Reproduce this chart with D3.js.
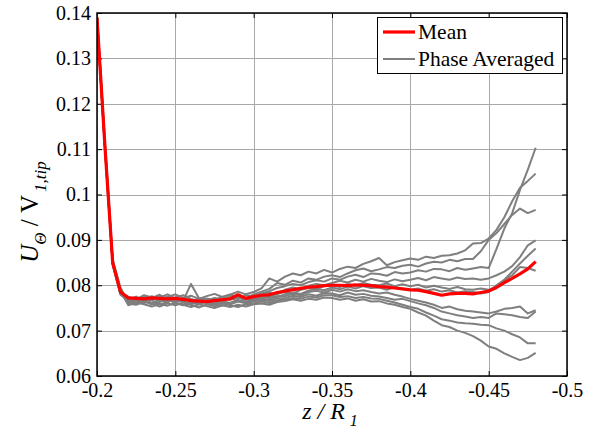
<!DOCTYPE html>
<html>
<head>
<meta charset="utf-8">
<script src="https://cdn.jsdelivr.net/npm/d3@7"></script>
<style>
  html, body { margin: 0; padding: 0; background: #fff; }
  svg { display: block; }
  svg text { font-family: 'Liberation Serif', 'Times New Roman', Times, 'DejaVu Serif', serif; }
</style>
</head>
<body>
<svg id="chart" width="590" height="434"></svg>
<script>
// ---------- data ----------
const zR = [-0.200,-0.205,-0.210,-0.215,-0.220,-0.225,-0.230,-0.235,-0.240,-0.245,
  -0.250,-0.255,-0.260,-0.265,-0.270,-0.275,-0.280,-0.285,-0.290,-0.295,
  -0.300,-0.305,-0.310,-0.315,-0.320,-0.325,-0.330,-0.335,-0.340,-0.345,
  -0.350,-0.355,-0.360,-0.365,-0.370,-0.375,-0.380,-0.385,-0.390,-0.395,
  -0.400,-0.405,-0.410,-0.415,-0.420,-0.425,-0.430,-0.435,-0.440,-0.445,
  -0.450,-0.455,-0.460,-0.465,-0.470,-0.475,-0.480];

const meanU = [0.1390,0.1110,0.0850,0.0785,0.0772,0.0771,0.0770,0.0772,0.0771,0.0770,
  0.0771,0.0769,0.0766,0.0765,0.0764,0.0766,0.0768,0.0770,0.0779,0.0771,
  0.0775,0.0778,0.0779,0.0784,0.0787,0.0790,0.0793,0.0796,0.0797,0.0799,
  0.0800,0.0800,0.0799,0.0801,0.0800,0.0799,0.0797,0.0796,0.0794,0.0792,
  0.0790,0.0789,0.0786,0.0782,0.0778,0.0781,0.0782,0.0782,0.0781,0.0784,
  0.0787,0.0795,0.0806,0.0815,0.0825,0.0836,0.0852];

const phaseA = [0.1392,0.1112,0.0852,0.0790,
  0.0768,0.0775,0.0766,0.0772,0.0779,0.0770,0.0764,0.0771,0.0768,0.0760,0.0766,0.0772,0.0769,0.0775,0.0770,0.0778,
  0.0776,0.0782,0.0787,0.0794,0.0798,0.0803,0.0800,0.0807,0.0811,0.0808,
  0.0815,0.0812,0.0819,0.0823,0.0818,0.0826,0.0825,0.0821,0.0829,0.0826,
  0.0828,0.0833,0.0830,0.0836,0.0835,0.0831,0.0838,0.0834,0.0837,0.0840,
  0.0838,0.0880,0.0925,0.0959,0.1010,0.1055,0.1103];
const phaseB = [0.1388,0.1105,0.0848,0.0785,
  0.0775,0.0769,0.0778,0.0773,0.0765,0.0774,0.0780,0.0772,0.0777,0.0770,0.0776,0.0781,0.0774,0.0779,0.0786,0.0780,
  0.0785,0.0793,0.0815,0.0808,0.0819,0.0826,0.0822,0.0830,0.0826,0.0834,
  0.0828,0.0836,0.0841,0.0838,0.0847,0.0853,0.0860,0.0844,0.0851,0.0855,
  0.0859,0.0856,0.0863,0.0860,0.0865,0.0866,0.0870,0.0877,0.0892,0.0893,
  0.0903,0.0922,0.0950,0.0985,0.1015,0.1030,0.1046];
const phaseC = [0.1395,0.1118,0.0856,0.0795,
  0.0762,0.0770,0.0774,0.0768,0.0773,0.0780,0.0771,0.0766,0.0803,0.0772,0.0769,0.0765,0.0772,0.0768,0.0774,0.0771,
  0.0780,0.0786,0.0792,0.0805,0.0801,0.0810,0.0806,0.0815,0.0812,0.0819,
  0.0822,0.0818,0.0826,0.0833,0.0837,0.0831,0.0835,0.0840,0.0838,0.0843,
  0.0845,0.0841,0.0848,0.0852,0.0850,0.0856,0.0853,0.0858,0.0858,0.0875,
  0.0900,0.0915,0.0935,0.0955,0.0969,0.0959,0.0966];
const phaseD = [0.1390,0.1108,0.0845,0.0780,
  0.0770,0.0763,0.0771,0.0776,0.0768,0.0762,0.0773,0.0778,0.0770,0.0765,0.0771,0.0767,0.0774,0.0780,0.0773,0.0768,
  0.0772,0.0778,0.0784,0.0780,0.0790,0.0795,0.0791,0.0799,0.0803,0.0800,
  0.0805,0.0810,0.0806,0.0812,0.0808,0.0814,0.0810,0.0807,0.0813,0.0809,
  0.0812,0.0816,0.0811,0.0818,0.0815,0.0812,0.0817,0.0814,0.0815,0.0812,
  0.0815,0.0822,0.0830,0.0842,0.0862,0.0888,0.0899];
const phaseE = [0.1386,0.1110,0.0850,0.0788,
  0.0764,0.0772,0.0768,0.0760,0.0769,0.0775,0.0767,0.0763,0.0758,0.0766,0.0762,0.0768,0.0765,0.0761,0.0767,0.0763,
  0.0770,0.0775,0.0772,0.0781,0.0785,0.0782,0.0790,0.0794,0.0791,0.0798,
  0.0800,0.0796,0.0803,0.0799,0.0805,0.0801,0.0800,0.0804,0.0798,0.0802,
  0.0798,0.0801,0.0795,0.0799,0.0795,0.0792,0.0796,0.0791,0.0790,0.0793,
  0.0790,0.0798,0.0812,0.0830,0.0848,0.0865,0.0881];
const phaseF = [0.1393,0.1114,0.0855,0.0782,
  0.0772,0.0766,0.0763,0.0770,0.0774,0.0768,0.0762,0.0769,0.0765,0.0770,0.0764,0.0760,0.0766,0.0771,0.0765,0.0769,
  0.0768,0.0772,0.0777,0.0774,0.0780,0.0784,0.0781,0.0788,0.0792,0.0789,
  0.0795,0.0791,0.0797,0.0793,0.0798,0.0794,0.0795,0.0790,0.0796,0.0792,
  0.0790,0.0793,0.0788,0.0791,0.0786,0.0789,0.0784,0.0787,0.0785,0.0782,
  0.0785,0.0800,0.0812,0.0822,0.0840,0.0838,0.0832];
const phaseG = [0.1389,0.1106,0.0846,0.0779,
  0.0766,0.0760,0.0765,0.0758,0.0763,0.0769,0.0761,0.0756,0.0762,0.0758,0.0764,0.0760,0.0755,0.0761,0.0766,0.0762,
  0.0766,0.0771,0.0768,0.0776,0.0776,0.0781,0.0778,0.0785,0.0788,0.0784,
  0.0790,0.0786,0.0791,0.0787,0.0789,0.0785,0.0782,0.0784,0.0779,0.0775,
  0.0770,0.0766,0.0762,0.0757,0.0750,0.0753,0.0747,0.0744,0.0742,0.0740,
  0.0738,0.0742,0.0748,0.0750,0.0753,0.0738,0.0745];
const phaseH = [0.1391,0.1111,0.0853,0.0786,
  0.0758,0.0765,0.0761,0.0767,0.0757,0.0763,0.0770,0.0764,0.0759,0.0765,0.0760,0.0757,0.0763,0.0758,0.0764,0.0760,
  0.0764,0.0768,0.0765,0.0771,0.0772,0.0777,0.0774,0.0780,0.0777,0.0783,
  0.0782,0.0778,0.0784,0.0779,0.0781,0.0777,0.0775,0.0772,0.0768,0.0770,
  0.0765,0.0760,0.0756,0.0750,0.0742,0.0738,0.0734,0.0731,0.0728,0.0730,
  0.0728,0.0738,0.0736,0.0734,0.0730,0.0728,0.0742];
const phaseI = [0.1387,0.1109,0.0849,0.0783,
  0.0760,0.0757,0.0764,0.0759,0.0753,0.0760,0.0756,0.0762,0.0757,0.0751,0.0758,0.0754,0.0760,0.0756,0.0752,0.0758,
  0.0760,0.0764,0.0761,0.0767,0.0768,0.0772,0.0770,0.0775,0.0773,0.0778,
  0.0778,0.0774,0.0776,0.0772,0.0774,0.0771,0.0770,0.0766,0.0762,0.0757,
  0.0752,0.0748,0.0740,0.0733,0.0725,0.0722,0.0718,0.0716,0.0715,0.0713,
  0.0712,0.0705,0.0700,0.0692,0.0685,0.0672,0.0672];
const phaseJ = [0.1392,0.1113,0.0851,0.0791,
  0.0756,0.0762,0.0758,0.0753,0.0759,0.0755,0.0761,0.0757,0.0752,0.0758,0.0754,0.0750,0.0756,0.0752,0.0757,0.0753,
  0.0758,0.0760,0.0757,0.0763,0.0765,0.0769,0.0766,0.0770,0.0768,0.0773,
  0.0772,0.0768,0.0771,0.0766,0.0769,0.0764,0.0765,0.0760,0.0757,0.0752,
  0.0748,0.0740,0.0733,0.0722,0.0712,0.0708,0.0700,0.0695,0.0688,0.0678,
  0.0665,0.0660,0.0650,0.0642,0.0635,0.0640,0.0651];

const phaseSeries = [phaseA, phaseB, phaseC, phaseD, phaseE, phaseF, phaseG, phaseH, phaseI, phaseJ];

const xTicks = [-0.2, -0.25, -0.3, -0.35, -0.4, -0.45, -0.5];
const xTickLabels = ["-0.2", "-0.25", "-0.3", "-0.35", "-0.4", "-0.45", "-0.5"];
const yTicks = [0.06, 0.07, 0.08, 0.09, 0.10, 0.11, 0.12, 0.13, 0.14];
const yTickLabels = ["0.06", "0.07", "0.08", "0.09", "0.1", "0.11", "0.12", "0.13", "0.14"];
const legendLabels = ["Mean", "Phase Averaged"];

// ---------- layout ----------
const SERIF = "'Liberation Serif', 'Times New Roman', Times, 'DejaVu Serif', serif";
const L = 97, R = 567, T = 13, B = 376;
const svg = d3.select("#chart");
const x = d3.scaleLinear().domain([-0.2, -0.5]).range([L, R]);
const y = d3.scaleLinear().domain([0.06, 0.14]).range([B, T]);

// grid
const grid = svg.append("g").attr("stroke", "#a8a8a8").attr("stroke-width", 1);
grid.selectAll("line.gx").data(xTicks).join("line")
  .attr("x1", d => Math.round(x(d)) + 0.5).attr("x2", d => Math.round(x(d)) + 0.5)
  .attr("y1", T).attr("y2", B);
grid.selectAll("line.gy").data(yTicks).join("line")
  .attr("y1", d => Math.round(y(d)) + 0.5).attr("y2", d => Math.round(y(d)) + 0.5)
  .attr("x1", L).attr("x2", R);

// axes
const fontSize = 20;
function styleAxis(g) {
  g.attr("font-family", SERIF).attr("font-size", fontSize);
  g.select(".domain").remove();
  g.selectAll(".tick line").attr("stroke", "#000").attr("stroke-width", 1);
  g.selectAll(".tick text").attr("fill", "#000");
}
const fmtX = (d, i) => xTickLabels[i];
const fmtY = (d, i) => yTickLabels[i];

svg.append("g").attr("transform", `translate(0,${B})`)
  .call(d3.axisBottom(x).tickValues(xTicks).tickFormat(fmtX).tickSizeInner(-5).tickSizeOuter(0).tickPadding(7))
  .call(styleAxis);
svg.append("g").attr("transform", `translate(0,${T})`)
  .call(d3.axisTop(x).tickValues(xTicks).tickFormat("").tickSizeInner(-5).tickSizeOuter(0))
  .call(styleAxis);
svg.append("g").attr("transform", `translate(${L},0)`)
  .call(d3.axisLeft(y).tickValues(yTicks).tickFormat(fmtY).tickSizeInner(-5).tickSizeOuter(0).tickPadding(6))
  .call(styleAxis);
svg.append("g").attr("transform", `translate(${R},0)`)
  .call(d3.axisRight(y).tickValues(yTicks).tickFormat("").tickSizeInner(-5).tickSizeOuter(0))
  .call(styleAxis);

// lines
const line = d3.line().x((d, i) => x(zR[i])).y(d => y(d));
svg.append("clipPath").attr("id", "clip").append("rect")
  .attr("x", L).attr("y", T).attr("width", R - L).attr("height", B - T);
const plot = svg.append("g").attr("clip-path", "url(#clip)");
plot.selectAll("path.phase").data(phaseSeries).join("path")
  .attr("class", "phase")
  .attr("d", d => line(d))
  .attr("fill", "none").attr("stroke", "#7f7f7f").attr("stroke-width", 2)
  .attr("stroke-linejoin", "round");
plot.append("path").attr("d", line(meanU))
  .attr("fill", "none").attr("stroke", "#ff0000").attr("stroke-width", 3.2)
  .attr("stroke-linejoin", "round");

// frame
svg.append("rect").attr("x", L).attr("y", T).attr("width", R - L).attr("height", B - T)
  .attr("fill", "none").attr("stroke", "#000").attr("stroke-width", 1.5);

// legend
const lg = svg.append("g").attr("font-family", SERIF);
lg.append("rect").attr("x", 377.5).attr("y", 17.5).attr("width", 185).attr("height", 56)
  .attr("fill", "#fff").attr("stroke", "#000").attr("stroke-width", 1);
const legendColors = ["#ff0000", "#7f7f7f"];
const legendWidths = [3.2, 2];
legendLabels.forEach((lab, i) => {
  const ly = 32 + i * 27;
  lg.append("line").attr("x1", 383).attr("x2", 415).attr("y1", ly).attr("y2", ly)
    .attr("stroke", legendColors[i]).attr("stroke-width", legendWidths[i]);
  lg.append("text").attr("x", 418).attr("y", ly).attr("dy", "0.33em")
    .attr("font-size", 21.5).attr("fill", "#000").text(lab);
});

// axis titles
svg.append("text").attr("x", 330).attr("y", 419).attr("text-anchor", "middle")
  .attr("font-family", SERIF).attr("font-size", 24).attr("fill", "#000")
  .call(t => {
    t.append("tspan").attr("font-style", "italic").text("z / R");
    t.append("tspan").attr("font-style", "italic").attr("font-size", 16).attr("dx", 5).attr("dy", 7).text("1");
  });

svg.append("text").attr("transform", "translate(38,212) rotate(-90)").attr("text-anchor", "middle")
  .attr("font-family", SERIF).attr("font-size", 25).attr("fill", "#000")
  .call(t => {
    t.append("tspan").attr("font-style", "italic").text("U");
    t.append("tspan").attr("font-style", "italic").attr("font-size", 17).attr("dy", 8).text("Θ");
    t.append("tspan").attr("dy", -8).text(" / V");
    t.append("tspan").attr("font-style", "italic").attr("font-size", 17).attr("dx", 3).attr("dy", 8).text("1,tip");
  });
</script>
</body>
</html>
